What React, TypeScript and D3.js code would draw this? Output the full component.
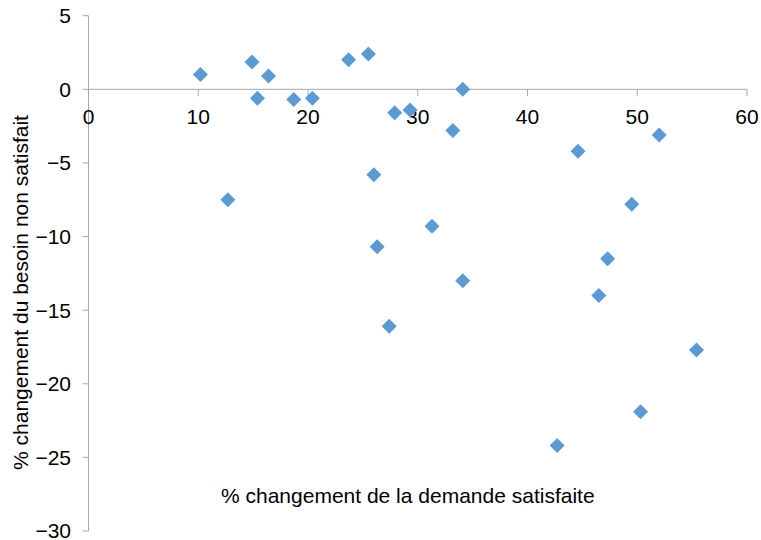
import React from "react";
import * as d3 from "d3";

const xValues = [10.2, 14.9, 16.4, 15.4, 18.7, 20.4, 23.7, 25.5, 27.9, 29.3, 34.1, 33.2, 12.7, 26.0, 26.3, 31.3, 34.1, 27.4, 44.6, 52.0, 49.5, 47.3, 46.5, 55.4, 50.3, 42.7];
const yValues = [1.0, 1.85, 0.9, -0.6, -0.7, -0.6, 2.0, 2.4, -1.6, -1.4, 0.0, -2.8, -7.5, -5.8, -10.7, -9.3, -13.0, -16.1, -4.2, -3.1, -7.8, -11.5, -14.0, -17.7, -21.9, -24.2];
const xTicks = [0, 10, 20, 30, 40, 50, 60];
const yTicks = [5, 0, -5, -10, -15, -20, -25, -30];
const xTitle = "% changement de la demande satisfaite";
const yTitle = "% changement du besoin non satisfait";

const W = 761;
const H = 540;
const FONT = "'Liberation Sans', Arial, Helvetica, sans-serif";

export default function App() {
  const x = d3.scaleLinear().domain([0, 60]).range([88.5, 747]);
  const y = d3.scaleLinear().domain([-30, 5]).range([531, 15.7]);
  const axisColor = "#a6a6a6";
  const fmt = (v: number) => (v < 0 ? "\u2212" + Math.abs(v) : String(v));
  const x0 = x(0);
  const y0 = y(0);
  const s = 7.5;

  return (
    <svg width={W} height={H} style={{ position: "absolute", left: 0, top: 0, background: "#fff" }} fontFamily={FONT}>
      {/* y axis */}
      <line x1={x0} x2={x0} y1={y(5)} y2={y(-30)} stroke={axisColor} strokeWidth={1} />
      {yTicks.map((t) => (
        <g key={"y" + t}>
          <line x1={x0 - 6} x2={x0} y1={y(t)} y2={y(t)} stroke={axisColor} strokeWidth={1} />
          <text x={71} y={y(t)} dy="0.35em" textAnchor="end" fontSize={21} fill="#000">
            {fmt(t)}
          </text>
        </g>
      ))}
      {/* x axis */}
      <line x1={x(0)} x2={x(60)} y1={y0} y2={y0} stroke={axisColor} strokeWidth={1} />
      {xTicks.map((t) => (
        <g key={"x" + t}>
          <line x1={x(t)} x2={x(t)} y1={y0} y2={y0 + 7} stroke={axisColor} strokeWidth={1} />
          <text x={x(t)} y={124} textAnchor="middle" fontSize={21} fill="#000">
            {fmt(t)}
          </text>
        </g>
      ))}
      {/* points */}
      {xValues.map((xv, i) => {
        const cx = x(xv);
        const cy = y(yValues[i]);
        return (
          <path
            key={"p" + i}
            d={`M${cx},${cy - s}L${cx + s},${cy}L${cx},${cy + s}L${cx - s},${cy}Z`}
            fill="#5b9bd5"
          />
        );
      })}
      {/* titles */}
      <text x={221} y={503} fontSize={21} fill="#000">
        {xTitle}
      </text>
      <text transform={`translate(28, 292.5) rotate(-90)`} textAnchor="middle" fontSize={21} fill="#000">
        {yTitle}
      </text>
    </svg>
  );
}
